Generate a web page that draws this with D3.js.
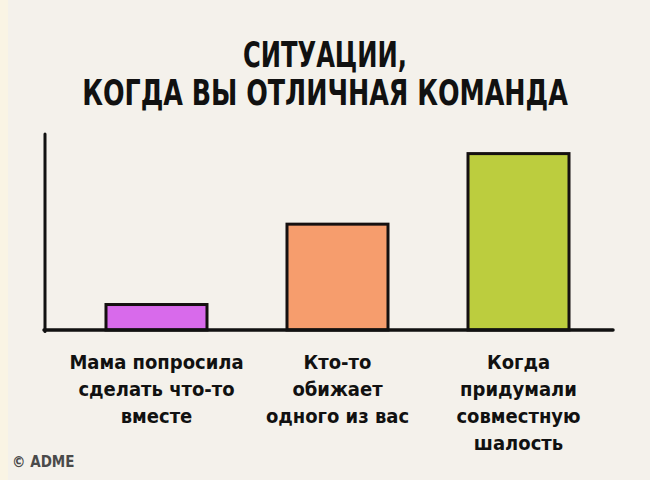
<!DOCTYPE html>
<html>
<head>
<meta charset="utf-8">
<script src="https://cdn.jsdelivr.net/npm/d3@7"></script>
<style>
  html, body { margin: 0; padding: 0; background: #f4f1eb; }
  svg { display: block; }
  .t { font-family: "DejaVu Sans Condensed", "Liberation Sans Narrow", "Roboto", sans-serif; font-weight: bold; font-stretch: condensed; }
</style>
</head>
<body>
<svg id="chart" width="650" height="480"></svg>
<script>
const titleLines = ["СИТУАЦИИ,", "КОГДА ВЫ ОТЛИЧНАЯ КОМАНДА"];
const categories = ["mama", "someone", "prank"];
const categoryLabels = [
  ["Мама попросила", "сделать что-то", "вместе"],
  ["Кто-то", "обижает", "одного из вас"],
  ["Когда", "придумали", "совместную", "шалость"]
];
const values = [13, 54, 90];
const colors = ["#d86aeb", "#f69d6d", "#bccd3e"];
const credit = "© ADME";

const svg = d3.select("#chart");
svg.append("rect").attr("width", 650).attr("height", 480).attr("fill", "#f4f1eb");
svg.append("rect").attr("width", 8).attr("height", 480).attr("fill", "#faf4e4");

const x = d3.scaleBand().domain(categories).range([44, 631]).paddingInner(0.442).paddingOuter(0.3425);
const y = d3.scaleLinear().domain([0, 100]).range([330, 134]);

// title (condensed horizontally to match the reference widths)
const titleWidths = [164, 486];
const titleBaselines = [67, 105];
svg.selectAll(".title").data(titleLines).join("text")
  .attr("class", "t title")
  .attr("x", 0)
  .attr("y", 0)
  .attr("text-anchor", "middle")
  .attr("font-size", 36)
  .attr("fill", "#111")
  .text(d => d)
  .each(function(d, i) {
    const w = this.getComputedTextLength();
    const sx = w > 0 ? titleWidths[i] / w : 1;
    d3.select(this).attr("transform", `translate(325,${titleBaselines[i]}) scale(${sx},1)`);
  });

// bars
svg.selectAll(".bar").data(categories).join("rect")
  .attr("class", "bar")
  .attr("x", d => x(d))
  .attr("y", (d, i) => y(values[i]))
  .attr("width", x.bandwidth())
  .attr("height", (d, i) => y(0) - y(values[i]))
  .attr("fill", (d, i) => colors[i])
  .attr("stroke", "#151010")
  .attr("stroke-width", 3);

// axes
svg.append("line").attr("x1", 45).attr("x2", 45).attr("y1", y(100)).attr("y2", y(0) + 1.5)
  .attr("stroke", "#111").attr("stroke-width", 3).attr("stroke-linecap", "round");
svg.append("line").attr("x1", 44).attr("x2", 613).attr("y1", y(0)).attr("y2", y(0))
  .attr("stroke", "#111").attr("stroke-width", 3.5).attr("stroke-linecap", "round");

// category labels
const lab = svg.selectAll(".lab").data(categories).join("text")
  .attr("class", "t lab")
  .attr("text-anchor", "middle")
  .attr("font-size", 20)
  .attr("fill", "#111");
lab.each(function(d, i) {
  d3.select(this).selectAll("tspan").data(categoryLabels[i]).join("tspan")
    .attr("x", x(d) + x.bandwidth() / 2)
    .attr("y", (t, j) => 369 + j * 27)
    .text(t => t);
});

svg.append("text").attr("class", "t")
  .attr("x", 12).attr("y", 467)
  .attr("font-size", 15).attr("fill", "#4a4a4a")
  .text(credit);
</script>
</body>
</html>
